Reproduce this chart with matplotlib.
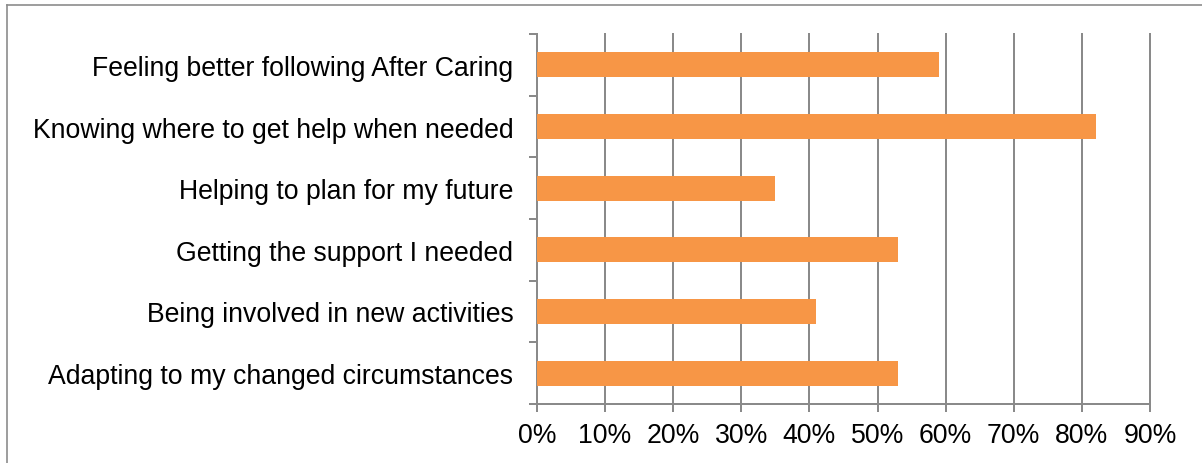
import matplotlib
matplotlib.use("Agg")
import matplotlib.pyplot as plt
from matplotlib.lines import Line2D
import numpy as np

categories = [
    "Feeling better following After Caring",
    "Knowing where to get help when needed",
    "Helping to plan for my future",
    "Getting the support I needed",
    "Being involved in new activities",
    "Adapting to my changed circumstances",
]
values = [0.59, 0.82, 0.35, 0.53, 0.41, 0.53]
xticks = [0.0, 0.1, 0.2, 0.3, 0.4, 0.5, 0.6, 0.7, 0.8, 0.9]
xtick_labels = ["0%", "10%", "20%", "30%", "40%", "50%", "60%", "70%", "80%", "90%"]

plt.rcParams['font.family'] = ['Liberation Sans', 'DejaVu Sans']

W, H = 1202, 464
fig = plt.figure(figsize=(W / 100, H / 100), dpi=100)
fig.patch.set_facecolor("white")
ax = fig.add_axes([537 / W, 1 - 405 / H, (1150 - 537) / W, (405 - 35) / H])

grey = "#8a8a8a"
lw = 1.44
y = np.arange(len(categories))
ax.barh(y, values, height=0.41, color="#F79646", zorder=3)

ax.set_xlim(0, 0.9)
ax.set_ylim(len(categories) - 0.5, -0.5)
ax.set_xticks(xticks)
ax.set_xticklabels(xtick_labels, fontsize=19.2)
ax.set_yticks(y)
ax.set_yticklabels(categories, fontsize=19.2)
ax.set_yticks(np.arange(-0.5, len(categories), 1.0), minor=True)

ax.tick_params(axis="y", which="major", length=0, pad=17)
ax.tick_params(axis="y", which="minor", length=5.8, width=lw, color=grey, direction="out")
ax.tick_params(axis="x", which="major", length=5.8, width=lw, color=grey, direction="out", pad=7)

ax.grid(axis="x", color=grey, linewidth=lw, zorder=0)
for gl in ax.get_xgridlines():
    gl.set_clip_on(False)
for s in ["top", "right"]:
    ax.spines[s].set_visible(False)
for s in ["left", "bottom"]:
    ax.spines[s].set_color(grey)
    ax.spines[s].set_linewidth(lw)

# outer chart frame (partially visible)
fig.add_artist(Line2D([7 / W, 7 / W], [0, 1 - 6 / H], color="#8c8c8c", linewidth=1.2, transform=fig.transFigure))
fig.add_artist(Line2D([7 / W, 1], [1 - 6 / H, 1 - 6 / H], color="#8c8c8c", linewidth=1.2, transform=fig.transFigure))

fig.savefig("out.png", dpi=100, facecolor="white")
